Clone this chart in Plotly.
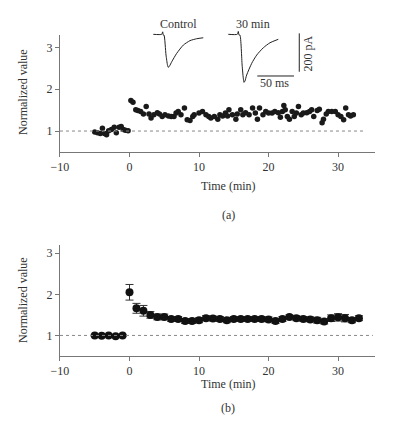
import plotly.graph_objects as go

# ---- Panel (a): individual experiment ----
time_a = [-5.0, -4.6, -4.2, -3.9, -3.6, -3.3, -3.0, -2.6, -2.2, -1.9, -1.5, -1.2, -0.9, -0.6, -0.2,
          0.2, 0.5, 0.9, 1.2, 1.6, 2.0, 2.4, 2.8, 3.1, 3.5, 4.0, 4.3, 4.7, 5.1, 5.6, 6.0, 6.4, 6.7,
          7.0, 7.4, 7.9, 8.3, 8.7, 9.1, 9.3, 10.0, 10.5, 11.0, 11.4, 11.7, 12.2, 12.7, 13.0, 13.4,
          13.8, 14.1, 14.3, 14.8, 15.3, 15.5, 16.0, 16.3, 16.7, 17.2, 17.7, 18.1, 18.4, 18.7, 19.2,
          19.6, 20.0, 20.5, 20.9, 21.4, 21.7, 22.0, 22.2, 22.4, 22.7, 23.0, 23.4, 23.7, 24.0, 24.3,
          24.7, 25.0, 25.5, 25.9, 26.2, 26.5, 27.0, 27.3, 27.7, 27.9, 28.3, 28.6, 29.1, 29.6, 30.0,
          30.4, 30.8, 31.1, 31.5, 31.8, 32.2]
value_a = [0.98, 0.96, 0.94, 1.07, 0.94, 0.91, 1.01, 1.04, 1.09, 0.96, 1.09, 1.11, 1.04, 1.02, 1.01,
           1.73, 1.69, 1.51, 1.49, 1.47, 1.41, 1.59, 1.41, 1.31, 1.39, 1.44, 1.41, 1.35, 1.39, 1.36,
           1.35, 1.35, 1.43, 1.47, 1.39, 1.55, 1.27, 1.25, 1.35, 1.39, 1.43, 1.47, 1.39, 1.35, 1.31,
           1.35, 1.28, 1.39, 1.36, 1.43, 1.36, 1.51, 1.39, 1.28, 1.41, 1.51, 1.39, 1.44, 1.39, 1.55,
           1.43, 1.28, 1.55, 1.39, 1.47, 1.43, 1.43, 1.47, 1.44, 1.33, 1.47, 1.61, 1.51, 1.35, 1.28,
           1.47, 1.35, 1.43, 1.59, 1.39, 1.43, 1.44, 1.47, 1.51, 1.35, 1.49, 1.52, 1.20, 1.28, 1.41,
           1.47, 1.47, 1.47, 1.39, 1.35, 1.27, 1.55, 1.39, 1.36, 1.39]

# ---- Panel (b): mean +/- SEM ----
time_b = [-5, -4, -3, -2, -1, 0, 1, 2, 3, 4, 5, 6, 7, 8, 9, 10, 11, 12, 13, 14, 15, 16, 17, 18, 19,
          20, 21, 22, 23, 24, 25, 26, 27, 28, 29, 30, 31, 32, 33]
mean_b = [1.00, 0.99, 1.00, 0.98, 1.00, 2.05, 1.66, 1.60, 1.50, 1.45, 1.45, 1.40, 1.40, 1.35, 1.35,
          1.37, 1.42, 1.41, 1.40, 1.37, 1.40, 1.40, 1.40, 1.40, 1.40, 1.39, 1.35, 1.40, 1.45, 1.42,
          1.40, 1.39, 1.37, 1.34, 1.42, 1.44, 1.42, 1.37, 1.42]
sem_b = [0.02, 0.02, 0.02, 0.02, 0.02, 0.19, 0.12, 0.13, 0.08, 0.07, 0.07, 0.06, 0.06, 0.06, 0.06,
         0.06, 0.06, 0.06, 0.06, 0.06, 0.06, 0.06, 0.06, 0.06, 0.06, 0.06, 0.06, 0.06, 0.05, 0.06,
         0.06, 0.06, 0.07, 0.06, 0.08, 0.09, 0.09, 0.06, 0.06]

# ---- Inset current traces (ms, pA) ----
ctrl_t = [4.5, 15.9, 17.3, 18.1, 19.1, 21.8, 23.8, 24.9, 26.6, 29.6, 36.4, 45.4, 54.5, 63.6, 72.6]
ctrl_i = [0, 0, 13, -4, -4, -108, -160, -172, -165, -143, -99, -56, -33, -23, -18]
late_t = [106.7, 118.9, 120.3, 121.3, 122.6, 125.5, 127.1, 128.1, 129.4, 131.7, 138.6, 145.4, 154.4, 163.5, 174.8]
late_i = [0, 0, 15, -4, -4, -160, -228, -250, -243, -212, -151, -108, -70, -44, -26]
bar_t_x = [146.2, 196.2]
bar_t_y = [-217, -217]
bar_i_x = [203.4, 203.4]
bar_i_y = [5, -195]

x_ticks = [-10, 0, 10, 20, 30]
x_labels = ["\u221210", "0", "10", "20", "30"]
y_ticks = [1, 2, 3]

FONT = "Liberation Serif"
TXT = "#333333"
AX = "#777777"

fig = go.Figure()

fig.add_trace(go.Scatter(x=time_a, y=value_a, mode="markers", xaxis="x", yaxis="y",
                         marker=dict(color="#1a1a1a", size=5.5), showlegend=False))

fig.add_trace(go.Scatter(x=time_b, y=mean_b, mode="markers", xaxis="x2", yaxis="y2",
                         marker=dict(color="#111111", size=8),
                         error_y=dict(type="data", array=sem_b, color="#333333", thickness=1, width=4),
                         showlegend=False))

for tx, ty in [(ctrl_t, ctrl_i), (late_t, late_i), (bar_t_x, bar_t_y), (bar_i_x, bar_i_y)]:
    fig.add_trace(go.Scatter(x=tx, y=ty, mode="lines", xaxis="x3", yaxis="y3",
                             line=dict(color="#222222", width=1, shape="spline", smoothing=0.6),
                             showlegend=False, hoverinfo="skip"))

common_x = dict(range=[-10, 35.3], tickvals=x_ticks, ticktext=x_labels, showline=True,
                linecolor=AX, linewidth=1, ticks="outside", ticklen=4, tickcolor=AX,
                showgrid=False, zeroline=False, automargin=False,
                tickfont=dict(family=FONT, size=12, color=TXT))
common_y = dict(tickvals=y_ticks, showline=True, linecolor=AX, linewidth=1, ticks="outside",
                ticklen=4, tickcolor=AX, showgrid=False, zeroline=False, automargin=False,
                tickfont=dict(family=FONT, size=12, color=TXT))

fig.update_layout(
    width=412, height=422,
    margin=dict(l=0, r=0, t=0, b=0),
    paper_bgcolor="white", plot_bgcolor="rgba(0,0,0,0)",
    xaxis=dict(domain=[0.1456, 0.910], anchor="y", **common_x),
    yaxis=dict(domain=[0.640, 0.917], anchor="x", range=[0.5, 3.3], **common_y),
    xaxis2=dict(domain=[0.1456, 0.910], anchor="y2", **common_x),
    yaxis2=dict(domain=[0.1564, 0.4194], anchor="x2", range=[0.5, 3.2], **common_y),
    xaxis3=dict(domain=[0.3641, 0.7524], anchor="y3", range=[0, 218], visible=False),
    yaxis3=dict(domain=[0.7867, 0.9526], anchor="x3", range=[-290, 74.5], visible=False),
    shapes=[
        dict(type="line", xref="x", yref="y", x0=-10, x1=33.8, y0=1, y1=1,
             line=dict(color="#888888", width=1, dash="dot")),
        dict(type="line", xref="x2", yref="y2", x0=-10, x1=35, y0=1, y1=1,
             line=dict(color="#888888", width=1, dash="dot")),
    ],
)

annots = [
    dict(text="Control", x=38.6, y=53.6, xref="x3", yref="y3", size=12, angle=0),
    dict(text="30 min", x=140.7, y=53.6, xref="x3", yref="y3", size=12, angle=0),
    dict(text="50 ms", x=170.3, y=-252, xref="x3", yref="y3", size=12, angle=0),
    dict(text="200 pA", x=215.7, y=-99, xref="x3", yref="y3", size=12, angle=-90),
    dict(text="Normalized value", x=23 / 412, y=1 - 92 / 422, xref="paper", yref="paper", size=12, angle=-90),
    dict(text="Normalized value", x=23 / 412, y=1 - 300 / 422, xref="paper", yref="paper", size=12, angle=-90),
    dict(text="Time (min)", x=228 / 412, y=1 - 186 / 422, xref="paper", yref="paper", size=12, angle=0),
    dict(text="Time (min)", x=228 / 412, y=1 - 384 / 422, xref="paper", yref="paper", size=12, angle=0),
    dict(text="(a)", x=228 / 412, y=1 - 215 / 422, xref="paper", yref="paper", size=12, angle=0),
    dict(text="(b)", x=228 / 412, y=1 - 408 / 422, xref="paper", yref="paper", size=12, angle=0),
]
for a in annots:
    fig.add_annotation(text=a["text"], x=a["x"], y=a["y"], xref=a["xref"], yref=a["yref"],
                       showarrow=False, textangle=a["angle"], xanchor="center", yanchor="middle",
                       font=dict(family=FONT, size=a["size"], color=TXT))

fig.write_html("out.html", config={"displayModeBar": False},
               post_script="document.body.style.margin='0';")
